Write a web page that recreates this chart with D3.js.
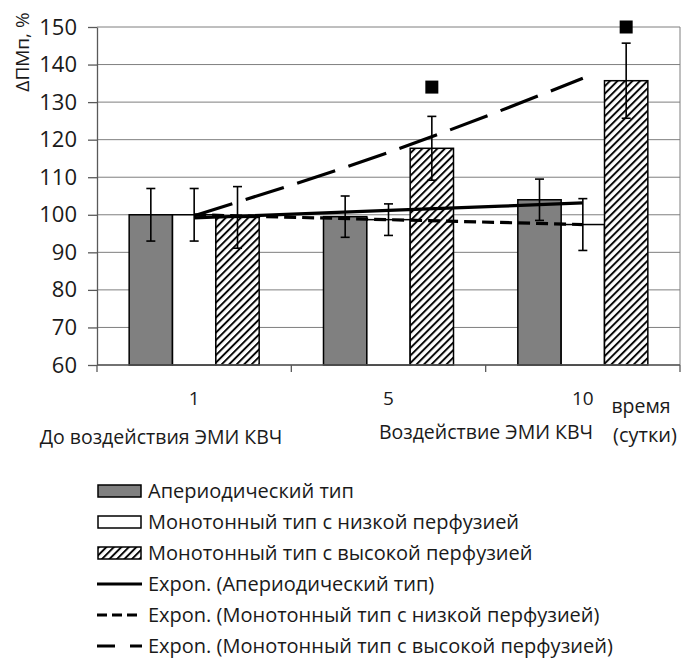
<html>
<head>
    <meta charset="utf-8">
    <title>ΔПМп</title>
    <script src="https://d3js.org/d3.v7.min.js"></script>
    <style>
        body { margin: 0; background: #fff; }
        text { font-family: "Open Sans", "Noto Sans", sans-serif; fill: #1a1a1a; }
    </style>
</head>
<body>
<script>
    // categories (days) and bar values
    const categories = ["1", "5", "10"];
    const seriesNames = ["Апериодический тип", "Монотонный тип с низкой перфузией", "Монотонный тип с высокой перфузией"];
    const aperiodic = [100, 99.5, 104];
    const lowPerf = [100, 98.7, 97.4];
    const highPerf = [99.3, 117.7, 135.7];
    const aperiodicErr = [7, 5.5, 5.5];
    const lowPerfErr = [7, 4.2, 6.9];
    const highPerfErr = [8.2, 8.5, 10];
    const highPerfMarks = [null, 134, 150];
    const yTicks = [60, 70, 80, 90, 100, 110, 120, 130, 140, 150];
    const trendNames = ["Expon. (Апериодический тип)", "Expon. (Монотонный тип с низкой перфузией)", "Expon. (Монотонный тип с высокой перфузией)"];

    let svg = d3.select("body").append("svg").attr("width", 682).attr("height", 659);
    let margin = {"top": 27, "right": 2, "bottom": 294, "left": 97};
    let width = 682, height = 659;
    let plotBottom = height - margin.bottom;

    // hatch pattern
    let defs = svg.append("defs");
    defs.append("pattern").attr("id", "hatch")
        .attr("patternUnits", "userSpaceOnUse")
        .attr("width", 5.3).attr("height", 5.3)
        .attr("patternTransform", "rotate(45)")
      .call(p => {
          p.append("rect").attr("width", 5.3).attr("height", 5.3).attr("fill", "#fff");
          p.append("line").attr("x1", 1).attr("x2", 1).attr("y1", 0).attr("y2", 5.3)
              .attr("stroke", "#000").attr("stroke-width", 1.9);
      });

    let series = [
        {name: seriesNames[0], vals: aperiodic, err: aperiodicErr, fill: "#808080"},
        {name: seriesNames[1], vals: lowPerf, err: lowPerfErr, fill: "#ffffff"},
        {name: seriesNames[2], vals: highPerf, err: highPerfErr, fill: "url(#hatch)"}
    ];

    let x = d3.scaleBand().domain(categories).range([margin.left, width - margin.right])
        .paddingInner(0.331).paddingOuter(0.1655);
    let xInner = d3.scaleBand().domain(d3.range(series.length)).range([0, x.bandwidth()]);
    let y = d3.scaleLinear().domain([60, 150]).range([plotBottom, margin.top]);

    // gridlines
    svg.append("g").selectAll("line").data(yTicks).join("line")
        .attr("x1", margin.left).attr("x2", width - margin.right)
        .attr("y1", d => y(d)).attr("y2", d => y(d))
        .attr("stroke", "#7f7f7f").attr("stroke-width", 1);
    svg.append("line")
        .attr("x1", width - margin.right).attr("x2", width - margin.right)
        .attr("y1", margin.top).attr("y2", plotBottom)
        .attr("stroke", "#7f7f7f");

    // bars
    series.forEach((s, i) => {
        svg.append("g").selectAll("rect").data(s.vals).join("rect")
            .attr("x", (d, j) => x(categories[j]) + xInner(i))
            .attr("y", d => y(d))
            .attr("width", xInner.bandwidth())
            .attr("height", d => y(60) - y(d))
            .attr("fill", s.fill)
            .attr("stroke", "#000").attr("stroke-width", 1.5);
    });

    // trend lines (exponential fit, as the spreadsheet does)
    function expFit(vals) {
        let xs = vals.map((d, i) => i + 1);
        let ls = vals.map(d => Math.log(d));
        let mx = d3.mean(xs), ml = d3.mean(ls);
        let b = d3.sum(xs, (v, i) => (v - mx) * (ls[i] - ml)) / d3.sum(xs, v => (v - mx) * (v - mx));
        let a = ml - b * mx;
        return xs.map(v => Math.exp(a + b * v));
    }
    let center = c => x(c) + x.bandwidth() / 2;
    let trendStyles = [null, "12,6", "40,14"];
    let lineGen = d3.line().x((d, j) => center(categories[j])).y(d => y(d)).curve(d3.curveMonotoneX);
    series.forEach((s, i) => {
        svg.append("path")
            .datum(expFit(s.vals))
            .attr("fill", "none")
            .attr("stroke", "#000")
            .attr("stroke-width", 3.2)
            .attr("stroke-dasharray", trendStyles[i])
            .attr("d", lineGen);
    });

    // error bars
    series.forEach((s, i) => {
        let g = svg.append("g");
        s.vals.forEach((v, j) => {
            let cx = x(categories[j]) + xInner(i) + xInner.bandwidth() / 2;
            let e = s.err[j];
            g.append("line").attr("x1", cx).attr("x2", cx).attr("y1", y(v + e)).attr("y2", y(v - e))
                .attr("stroke", "#000").attr("stroke-width", 1.6);
            [v + e, v - e].forEach(t => {
                g.append("line").attr("x1", cx - 4.5).attr("x2", cx + 4.5).attr("y1", y(t)).attr("y2", y(t))
                    .attr("stroke", "#000").attr("stroke-width", 1.6);
            });
        });
    });

    // significance markers
    svg.append("g").selectAll("rect").data(highPerfMarks.map((d, j) => [d, j]).filter(d => d[0] != null))
        .join("rect")
        .attr("x", d => x(categories[d[1]]) + xInner(2) + xInner.bandwidth() / 2 - 6.5)
        .attr("y", d => y(d[0]) - 6.5)
        .attr("width", 13).attr("height", 13)
        .attr("fill", "#000");

    // y axis
    let leftAxis = d3.axisLeft(y).tickValues(yTicks).tickSizeOuter(0).tickSizeInner(9).tickPadding(11);
    let ya = svg.append("g").attr("transform", "translate(" + margin.left + ",0)").call(leftAxis);
    ya.attr("font-size", null).attr("font-family", null);
    ya.select(".domain").attr("stroke", "#595959").attr("stroke-width", 1.3);
    ya.selectAll(".tick line").attr("stroke", "#595959").attr("stroke-width", 1.3);
    ya.selectAll(".tick text").style("font-size", "22px").attr("fill", "#1a1a1a");

    // x axis
    svg.append("line").attr("x1", margin.left).attr("x2", width - margin.right)
        .attr("y1", plotBottom).attr("y2", plotBottom).attr("stroke", "#595959").attr("stroke-width", 1.3);
    let bounds = categories.map(c => x(c) - x.step() * x.paddingInner() / 2).concat([width - margin.right]);
    bounds[0] = margin.left;
    svg.append("g").selectAll("line").data(bounds).join("line")
        .attr("x1", d => d).attr("x2", d => d)
        .attr("y1", plotBottom).attr("y2", plotBottom + 7)
        .attr("stroke", "#595959").attr("stroke-width", 1.3);
    svg.append("g").selectAll("text").data(categories).join("text")
        .attr("x", d => center(d)).attr("y", 405)
        .attr("text-anchor", "middle").style("font-size", "19px")
        .text(d => d);

    // axis titles and notes
    svg.append("text").attr("transform", "translate(29,52) rotate(-90)")
        .attr("text-anchor", "middle").style("font-size", "19px").text("ΔПМп, %");
    svg.append("text").attr("x", 641).attr("y", 413).attr("text-anchor", "middle")
        .style("font-size", "19.5px").text("время");
    svg.append("text").attr("x", 645).attr("y", 442).attr("text-anchor", "middle")
        .style("font-size", "20px").text("(сутки)");
    svg.append("text").attr("x", 161).attr("y", 444).attr("text-anchor", "middle")
        .style("font-size", "19.5px").text("До воздействия ЭМИ КВЧ");
    svg.append("text").attr("x", 486).attr("y", 439).attr("text-anchor", "middle")
        .style("font-size", "19.5px").text("Воздействие ЭМИ КВЧ");

    // legend
    let legendY = d3.scaleLinear().domain([0, 5]).range([491, 646]);
    let legend = svg.append("g");
    series.forEach((s, i) => {
        legend.append("rect").attr("x", 98).attr("y", legendY(i) - 6)
            .attr("width", 43).attr("height", 12)
            .attr("fill", s.fill).attr("stroke", "#000").attr("stroke-width", 1.5);
        legend.append("text").attr("x", 148).attr("y", legendY(i) + 7)
            .style("font-size", "20px").text(s.name);
    });
    let legendDash = [null, "10,5", "18,15"];
    trendNames.forEach((n, i) => {
        legend.append("line").attr("x1", 97).attr("x2", 142)
            .attr("y1", legendY(i + 3)).attr("y2", legendY(i + 3))
            .attr("stroke", "#000").attr("stroke-width", 3.2)
            .attr("stroke-dasharray", legendDash[i]);
        legend.append("text").attr("x", 148).attr("y", legendY(i + 3) + 7)
            .style("font-size", "20px").text(n);
    });
</script>
</body>
</html>
